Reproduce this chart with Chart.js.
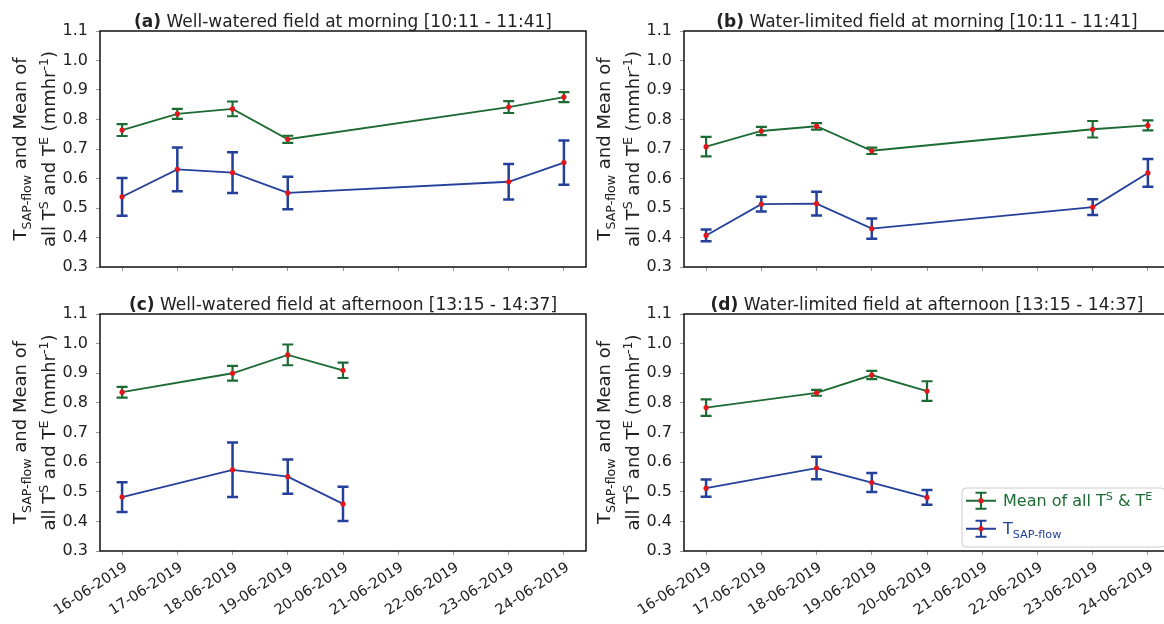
<!DOCTYPE html>
<html>
<head>
<meta charset="utf-8">
<script src="https://cdn.jsdelivr.net/npm/chart.js@4"></script>
<style>
  html, body { margin: 0; padding: 0; background: #fff; overflow: hidden; }
  #wrap { position: relative; width: 1164px; height: 624px; overflow: hidden; }
  canvas { position: absolute; }
</style>
</head>
<body>
<div id="wrap">
  <canvas id="chartA" width="600" height="290" style="left:0;top:0"></canvas>
  <canvas id="chartB" width="590" height="290" style="left:590px;top:0"></canvas>
  <canvas id="chartC" width="600" height="334" style="left:0;top:290px"></canvas>
  <canvas id="chartD" width="590" height="334" style="left:590px;top:290px"></canvas>
</div>
<script>
// DATA
const dateLabels = ["16-06-2019", "17-06-2019", "18-06-2019", "19-06-2019", "20-06-2019",
  "21-06-2019", "22-06-2019", "23-06-2019", "24-06-2019"];
const yTicks = [0.3, 0.4, 0.5, 0.6, 0.7, 0.8, 0.9, 1.0, 1.1];

const morningDays = ["16-06-2019", "17-06-2019", "18-06-2019", "19-06-2019", "23-06-2019", "24-06-2019"];
const afternoonDays = ["16-06-2019", "18-06-2019", "19-06-2019", "20-06-2019"];

// (a) well-watered, morning
const wellMorningMean = [0.764, 0.819, 0.836, 0.733, 0.842, 0.876];
const wellMorningMeanErr = [0.020, 0.017, 0.025, 0.012, 0.020, 0.017];
const wellMorningSap = [0.538, 0.631, 0.620, 0.551, 0.589, 0.654];
const wellMorningSapErr = [0.064, 0.074, 0.069, 0.055, 0.060, 0.075];

// (b) water-limited, morning
const limitedMorningMean = [0.708, 0.761, 0.777, 0.694, 0.767, 0.780];
const limitedMorningMeanErr = [0.033, 0.014, 0.011, 0.011, 0.028, 0.017];
const limitedMorningSap = [0.407, 0.513, 0.515, 0.430, 0.503, 0.619];
const limitedMorningSapErr = [0.020, 0.025, 0.040, 0.034, 0.027, 0.047];

// (c) well-watered, afternoon
const wellAfternoonMean = [0.836, 0.900, 0.962, 0.910];
const wellAfternoonMeanErr = [0.018, 0.025, 0.035, 0.026];
const wellAfternoonSap = [0.482, 0.574, 0.551, 0.459];
const wellAfternoonSapErr = [0.050, 0.092, 0.058, 0.058];

// (d) water-limited, afternoon
const limitedAfternoonMean = [0.784, 0.834, 0.894, 0.840];
const limitedAfternoonMeanErr = [0.028, 0.010, 0.014, 0.033];
const limitedAfternoonSap = [0.512, 0.580, 0.531, 0.481];
const limitedAfternoonSapErr = [0.029, 0.038, 0.032, 0.025];

// STYLE
const FONT = '"DejaVu Sans", sans-serif';
const GREEN = "#1d6b34";
const BLUE = "#24409a";
const RED = "#e3161b";
const TEXT = "#222";

// RICH TEXT (bold / sub / sup)
function segFont(s, size) {
  const sz = s.sub || s.sup ? size * 0.7 : size;
  return `${s.bold ? "bold " : ""}${sz}px ${FONT}`;
}

function drawRich(ctx, segs, x, y, size, align) {
  ctx.textAlign = "left";
  ctx.textBaseline = "alphabetic";
  let total = 0;
  segs.forEach((s) => {
    ctx.font = segFont(s, size);
    total += ctx.measureText(s.t).width;
  });
  let cx = align === "center" ? x - total / 2 : x;
  segs.forEach((s) => {
    ctx.font = segFont(s, size);
    const dy = s.sub ? size * 0.25 : s.sup ? -size * 0.4 : 0;
    ctx.fillText(s.t, cx, y + dy);
    cx += ctx.measureText(s.t).width;
  });
}

const yTitle1 = [{ t: "T" }, { t: "SAP-flow", sub: true }, { t: " and Mean of" }];
const yTitle2 = [{ t: "all T" }, { t: "S", sup: true }, { t: " and T" }, { t: "E", sup: true },
  { t: " (mmhr" }, { t: "-1", sup: true }, { t: ")" }];

// PLUGINS
const errorBars = {
  id: "errorBars",
  beforeDatasetsDraw(chart) {
    const ctx = chart.ctx;
    const yScale = chart.scales.y;
    chart.data.datasets.forEach((ds, i) => {
      const meta = chart.getDatasetMeta(i);
      ctx.save();
      ctx.strokeStyle = ds.borderColor;
      ctx.lineWidth = ds.errWidth;
      meta.data.forEach((pt, j) => {
        const v = ds.data[j].y;
        const e = ds.errors[j];
        const top = yScale.getPixelForValue(v + e);
        const bot = yScale.getPixelForValue(v - e);
        ctx.beginPath();
        ctx.moveTo(pt.x, top);
        ctx.lineTo(pt.x, bot);
        ctx.moveTo(pt.x - 5.5, top);
        ctx.lineTo(pt.x + 5.5, top);
        ctx.moveTo(pt.x - 5.5, bot);
        ctx.lineTo(pt.x + 5.5, bot);
        ctx.stroke();
      });
      ctx.restore();
    });
  },
};

const panelDeco = {
  id: "panelDeco",
  afterDraw(chart, args, opts) {
    const ctx = chart.ctx;
    const a = chart.chartArea;
    ctx.save();
    // frame
    ctx.strokeStyle = "#111";
    ctx.lineWidth = 1.5;
    ctx.strokeRect(a.left, a.top, a.right - a.left, a.bottom - a.top);
    // title
    ctx.fillStyle = TEXT;
    drawRich(ctx, opts.title, (a.left + a.right) / 2, a.top - 4, 17, "center");
    // y axis title, two lines rotated
    const cy = (a.top + a.bottom) / 2;
    [[yTitle1, 80], [yTitle2, 51]].forEach(([segs, off]) => {
      ctx.save();
      ctx.translate(a.left - off, cy);
      ctx.rotate(-Math.PI / 2);
      drawRich(ctx, segs, 0, 18 * 0.36, 18, "center");
      ctx.restore();
    });
    // legend
    if (opts.legend) {
      const right = a.right - 5;
      const bottom = a.bottom - 4;
      const left = right - 203;
      const top = bottom - 59;
      ctx.fillStyle = "rgba(255,255,255,0.85)";
      ctx.strokeStyle = "#cccccc";
      ctx.lineWidth = 1;
      ctx.beginPath();
      ctx.roundRect(left, top, right - left, bottom - top, 4);
      ctx.fill();
      ctx.stroke();
      const rows = [
        { color: GREEN, segs: [{ t: "Mean of all T" }, { t: "S", sup: true }, { t: " & T" }, { t: "E", sup: true }] },
        { color: BLUE, segs: [{ t: "T" }, { t: "SAP-flow", sub: true }] },
      ];
      rows.forEach((r, i) => {
        const y = top + 12.7 + i * 28;
        const sx = left + 19;
        ctx.strokeStyle = r.color;
        ctx.lineWidth = 2;
        ctx.beginPath();
        ctx.moveTo(sx - 15, y);
        ctx.lineTo(sx + 15, y);
        ctx.moveTo(sx, y - 8);
        ctx.lineTo(sx, y + 8);
        ctx.moveTo(sx - 5.5, y - 8);
        ctx.lineTo(sx + 5.5, y - 8);
        ctx.moveTo(sx - 5.5, y + 8);
        ctx.lineTo(sx + 5.5, y + 8);
        ctx.stroke();
        ctx.fillStyle = RED;
        ctx.beginPath();
        ctx.arc(sx, y, 2.6, 0, Math.PI * 2);
        ctx.fill();
        ctx.fillStyle = r.color;
        drawRich(ctx, r.segs, left + 41, y + 16 * 0.36, 16, "left");
      });
    }
    ctx.restore();
  },
};

// CHARTS
function series(days, values, errors, color, errWidth) {
  return {
    data: days.map((d, i) => ({ x: dateLabels.indexOf(d), y: values[i] })),
    errors: errors,
    errWidth: errWidth,
    borderColor: color,
    borderWidth: 1.8,
    pointRadius: 2.6,
    pointBackgroundColor: RED,
    pointBorderWidth: 0,
    tension: 0,
  };
}

function makePanel(id, cfg) {
  const canvas = document.getElementById(id);
  return new Chart(canvas, {
    type: "line",
    data: {
      datasets: [
        series(cfg.days, cfg.mean, cfg.meanErr, GREEN, 2.2),
        series(cfg.days, cfg.sap, cfg.sapErr, BLUE, 2.5),
      ],
    },
    options: {
      responsive: false,
      animation: false,
      layout: { padding: { top: cfg.padTop, right: cfg.padRight, left: 0, bottom: 0 } },
      plugins: {
        legend: { display: false },
        tooltip: { enabled: false },
        panelDeco: { title: cfg.title, legend: cfg.legend },
      },
      scales: {
        x: {
          type: "linear",
          min: -0.4,
          max: 8.4,
          afterBuildTicks: (s) => { s.ticks = dateLabels.map((d, i) => ({ value: i })); },
          afterFit: (s) => { s.height = cfg.xHeight; },
          border: { display: false },
          grid: { drawOnChartArea: false, tickLength: 4, color: "#999" },
          ticks: {
            autoSkip: false,
            minRotation: 33,
            maxRotation: 33,
            padding: 4,
            labelOffset: 4,
            color: TEXT,
            font: { family: FONT, size: 14.5 },
            callback: (v, i) => (cfg.xLabels ? dateLabels[i] : ""),
          },
        },
        y: {
          min: 0.3,
          max: 1.1,
          afterBuildTicks: (s) => { s.ticks = yTicks.map((v) => ({ value: v })); },
          afterFit: (s) => { s.width = cfg.yWidth; },
          border: { display: false },
          grid: { drawOnChartArea: false, tickLength: 4, color: "#999" },
          ticks: {
            padding: 8,
            color: TEXT,
            font: { family: FONT, size: 16 },
            callback: (v) => v.toFixed(1),
          },
        },
      },
    },
    plugins: [errorBars, panelDeco],
  });
}

makePanel("chartA", {
  days: morningDays, mean: wellMorningMean, meanErr: wellMorningMeanErr,
  sap: wellMorningSap, sapErr: wellMorningSapErr,
  title: [{ t: "(a)", bold: true }, { t: " Well-watered field at morning [10:11 - 11:41]" }],
  padTop: 31, padRight: 14, yWidth: 100, xHeight: 23, xLabels: false,
});

makePanel("chartB", {
  days: morningDays, mean: limitedMorningMean, meanErr: limitedMorningMeanErr,
  sap: limitedMorningSap, sapErr: limitedMorningSapErr,
  title: [{ t: "(b)", bold: true }, { t: " Water-limited field at morning [10:11 - 11:41]" }],
  padTop: 31, padRight: 10, yWidth: 94, xHeight: 23, xLabels: false,
});

makePanel("chartC", {
  days: afternoonDays, mean: wellAfternoonMean, meanErr: wellAfternoonMeanErr,
  sap: wellAfternoonSap, sapErr: wellAfternoonSapErr,
  title: [{ t: "(c)", bold: true }, { t: " Well-watered field at afternoon [13:15 - 14:37]" }],
  padTop: 24, padRight: 14, yWidth: 100, xHeight: 73, xLabels: true,
});

makePanel("chartD", {
  days: afternoonDays, mean: limitedAfternoonMean, meanErr: limitedAfternoonMeanErr,
  sap: limitedAfternoonSap, sapErr: limitedAfternoonSapErr,
  title: [{ t: "(d)", bold: true }, { t: " Water-limited field at afternoon [13:15 - 14:37]" }],
  padTop: 24, padRight: 10, yWidth: 94, xHeight: 73, xLabels: true, legend: true,
});
</script>
</body>
</html>
